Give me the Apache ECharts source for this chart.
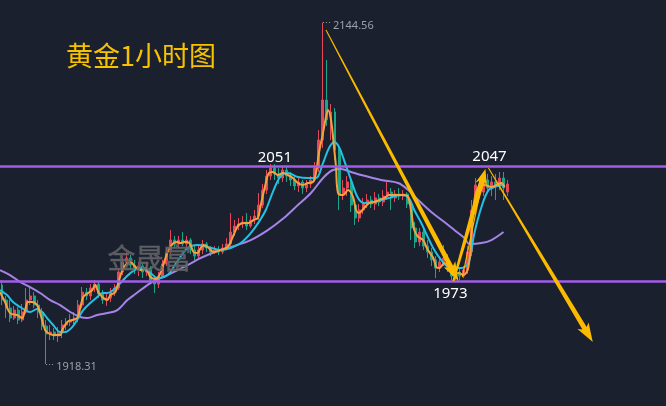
<!DOCTYPE html>
<html><head><meta charset="utf-8">
<script src="https://cdn.jsdelivr.net/npm/echarts@6/dist/echarts.min.js"></script>
<style>html,body{margin:0;padding:0;background:#1a202d;}#c{width:666px;height:406px;}</style>
</head><body><div id="c"></div>
<script>
// ---- data (prices) ----
const opens = [1970.7,1960.7,1955.4,1948.8,1954.1,1947.5,1952.8,1960.7,1963.4,1957.4,
1952.8,1943.5,1938.2,1939.5,1936.9,1938.9,1944.2,1946.1,1947.5,1948.8,
1957.4,1966.0,1963.4,1968.7,1971.3,1964.7,1960.7,1962.1,1966.0,1968.7,
1979.3,1985.9,1988.6,1983.9,1980.6,1983.3,1979.3,1981.9,1974.0,1971.3,
1976.6,1984.6,1992.6,2000.5,1997.9,2000.5,1997.9,2000.5,1993.9,1989.9,
1993.9,1997.9,1995.2,1992.6,1993.9,1992.6,1995.2,1997.9,2005.8,2009.8,
2011.1,2012.4,2009.8,2013.8,2016.4,2023.7,2033.6,2042.9,2048.2,2044.3,
2041.6,2046.9,2042.9,2040.3,2036.3,2039.0,2035.0,2037.6,2040.3,2048.2,
2066.8,2093.3,2080.1,2085.4,2060.2,2030.3,2035.0,2039.0,2023.7,2015.1,
2020.4,2024.4,2027.0,2024.4,2028.4,2025.7,2029.7,2032.3,2028.4,2031.0,
2029.7,2031.0,2024.4,2008.5,1999.2,2005.8,1996.5,1992.6,1987.3,1981.9,
1985.9,1988.6,1981.9,1976.6,1979.3,1976.6,1980.6,1992.6,2020.4,2037.0,
2032.3,2040.3,2035.0,2039.0,2036.3,2041.6,2032.3];
const closes = [1960.7,1955.4,1948.8,1954.1,1947.5,1952.8,1960.7,1963.4,1957.4,1952.8,
1943.5,1938.2,1939.5,1936.9,1938.9,1944.2,1946.1,1947.5,1948.8,1957.4,
1966.0,1963.4,1968.7,1971.3,1964.7,1960.7,1962.1,1966.0,1968.7,1979.3,
1985.9,1988.6,1983.9,1980.6,1983.3,1979.3,1981.9,1974.0,1971.3,1976.6,
1984.6,1992.6,2000.5,1997.9,2000.5,1997.9,2000.5,1993.9,1989.9,1993.9,
1997.9,1995.2,1992.6,1993.9,1992.6,1995.2,1997.9,2005.8,2009.8,2011.1,
2012.4,2009.8,2013.8,2016.4,2023.7,2033.6,2042.9,2048.2,2044.3,2041.6,
2046.9,2042.9,2040.3,2036.3,2039.0,2035.0,2037.6,2040.3,2048.2,2066.8,
2093.3,2080.1,2085.4,2060.2,2030.3,2035.0,2039.0,2023.7,2015.1,2020.4,
2024.4,2027.0,2024.4,2028.4,2025.7,2029.7,2032.3,2028.4,2031.0,2029.7,
2031.0,2024.4,2008.5,1999.2,2005.8,1996.5,1992.6,1987.3,1981.9,1985.9,
1988.6,1981.9,1976.6,1979.3,1976.6,1980.6,1992.6,2020.4,2037.0,2032.3,
2040.3,2035.0,2039.0,2036.3,2041.6,2035.0,2037.6];
const lows = [1957.4,1948.8,1946.1,1947.5,1944.8,1946.1,1951.5,1957.4,1955.4,1948.8,
1940.8,1918.31,1934.2,1934.2,1932.9,1935.5,1940.8,1943.5,1944.8,1946.1,
1955.4,1960.7,1960.7,1966.0,1962.1,1958.1,1956.8,1959.4,1963.4,1967.4,
1977.3,1983.3,1980.6,1978.0,1976.6,1975.3,1976.6,1971.3,1965.4,1968.7,
1975.3,1983.3,1991.2,1995.2,1995.2,1996.5,1993.9,1991.2,1987.3,1988.6,
1991.2,1992.6,1989.9,1991.2,1990.6,1991.2,1993.9,1996.5,2003.2,2007.1,
2008.5,2007.1,2008.5,2011.1,2013.8,2021.7,2031.0,2040.3,2040.3,2037.6,
2039.0,2039.0,2036.3,2033.6,2032.3,2031.0,2032.3,2035.0,2039.0,2045.6,
2061.5,2076.1,2066.8,2053.5,2020.4,2027.0,2029.7,2019.1,2010.5,2012.4,
2017.7,2021.7,2021.7,2020.4,2023.0,2023.0,2027.0,2020.4,2025.7,2027.0,
2027.0,2021.7,2000.5,1995.2,1996.5,1993.9,1988.6,1983.3,1975.3,1979.3,
1983.3,1979.3,1974.0,1974.0,1974.0,1975.3,1978.0,1989.9,2017.7,2028.4,
2029.7,2032.3,2029.7,2027.0,2033.6,2027.0,2029.7];
const highs = [1974.0,1963.4,1960.7,1956.8,1956.1,1958.1,1968.7,1970.0,1966.0,1960.7,
1955.4,1947.5,1944.2,1942.2,1942.8,1947.5,1948.8,1951.5,1952.8,1960.7,
1969.4,1968.7,1971.3,1974.0,1972.7,1967.4,1966.0,1968.7,1971.3,1981.9,
1989.9,1992.6,1990.6,1987.3,1985.9,1985.9,1985.9,1983.3,1976.6,1979.3,
1987.3,1995.2,2007.1,2003.2,2003.2,2005.8,2003.2,2001.8,1996.5,1996.5,
2000.5,1999.2,1996.5,1996.5,1996.5,1997.9,2001.8,2018.4,2013.8,2015.1,
2016.4,2018.4,2016.4,2020.4,2031.7,2037.6,2046.9,2050.9,2050.9,2048.2,
2049.6,2049.6,2045.6,2042.9,2041.6,2040.3,2040.3,2042.9,2052.2,2073.4,
2144.56,2119.8,2090.7,2088.0,2063.5,2040.3,2042.9,2040.3,2027.0,2024.4,
2028.4,2031.0,2029.7,2032.3,2031.0,2033.6,2039.0,2035.0,2033.6,2035.0,
2033.6,2032.3,2027.0,2012.4,2008.5,2008.5,2000.5,1995.2,1989.9,1988.6,
1997.2,1991.2,1984.6,1981.9,1981.9,1983.3,1996.5,2027.0,2041.6,2040.3,
2043.6,2044.3,2042.9,2044.3,2045.6,2045.6,2040.3];

// moving averages: [bar index, price]
const maFast = [[-0.5,1966.0],[0.75,1959.4],[2,1952.1],[3.75,1950.8],[5,1948.8],[5.75,1954.1],[6.5,1959.4],[7.5,1959.4],[8.75,1957.4],[9.5,1952.1],[10.75,1940.8],[11.5,1938.9],[12.75,1937.5],[14.5,1937.5],[15,1940.8],[16.25,1946.1],[17.5,1947.5],[18.75,1948.8],[19.5,1955.4],[20.25,1962.7],[21.5,1965.4],[22.5,1967.4],[23.25,1970.7],[24,1966.0],[25,1962.7],[26.25,1960.7],[27,1964.0],[28.25,1966.0],[29,1972.0],[30,1980.6],[31.25,1985.3],[32,1985.9],[33.25,1982.6],[34.5,1980.6],[35.75,1981.9],[37,1976.0],[38.25,1974.7],[39,1976.0],[40,1982.6],[40.75,1988.6],[41.5,1993.9],[42.75,1998.5],[43.75,1999.2],[44.5,1998.5],[45.25,1999.2],[46.25,1999.2],[47,1997.2],[47.75,1992.5],[48.75,1991.9],[49.5,1995.2],[50.25,1997.2],[51.25,1995.9],[52,1993.9],[52.75,1992.5],[54.5,1993.9],[56.25,1995.9],[57.5,2002.5],[58.25,2007.1],[59,2010.4],[60.25,2011.8],[61.5,2011.8],[62.75,2013.8],[63.75,2015.1],[64.5,2023.7],[65.75,2038.3],[66.5,2044.9],[67.5,2045.6],[68.75,2043.6],[70,2044.9],[71.25,2043.6],[72.5,2041.6],[73.75,2038.3],[75,2037.0],[76.25,2038.3],[77.5,2039.0],[78.25,2044.9],[79,2058.2],[80,2071.4],[80.75,2082.0],[81.25,2086.7],[82,2080.1],[82.75,2062.2],[83.25,2048.9],[83.75,2031.7],[85,2030.3],[86.25,2033.6],[87.5,2029.0],[88.25,2020.4],[89,2018.4],[90.25,2021.7],[91.5,2025.0],[92.75,2025.7],[94,2027.0],[95.25,2028.3],[96.5,2030.3],[99,2030.3],[100.25,2030.3],[101.25,2029.0],[102,2019.1],[102.75,2007.1],[103.75,2002.5],[105,2000.5],[105.75,1995.9],[106.5,1992.5],[107.5,1988.6],[108.25,1982.6],[109,1981.9],[110.25,1985.3],[111.25,1982.6],[112.5,1977.3],[113.75,1978.6],[115,1977.3],[116.25,1982.6],[117,2005.1],[117.75,2027.0],[118.75,2035.6],[120.25,2037.0],[122,2035.6],[123.25,2037.0],[124.5,2038.3],[125.25,2035.6]];
const maMid = [[-0.5,1967.4],[1.25,1964.0],[2.75,1959.4],[4.5,1956.1],[5.75,1954.1],[7,1952.8],[8.75,1954.8],[10,1952.8],[11.25,1948.8],[12.75,1944.2],[14.5,1939.5],[15.75,1939.5],[17.5,1942.8],[19,1948.8],[20.25,1954.1],[22,1958.7],[23.75,1962.7],[25,1965.4],[26.25,1965.4],[27.75,1967.4],[29.5,1972.0],[32,1978.6],[34.5,1981.9],[37,1978.6],[38.75,1975.3],[41.25,1977.3],[43.75,1986.6],[46.25,1995.2],[48.75,1997.2],[51.25,1995.9],[54.5,1993.9],[57,1995.2],[59.5,1998.5],[62,2005.1],[64,2012.4],[65.75,2020.4],[67.5,2032.3],[69.5,2043.0],[71.25,2044.9],[73.75,2042.3],[76.25,2041.6],[78.25,2041.6],[80,2051.5],[81.5,2061.5],[82.75,2065.5],[84,2062.2],[85.25,2053.5],[87,2040.3],[88.75,2028.3],[90.25,2025.0],[92.75,2025.7],[96.25,2028.3],[99.5,2030.3],[101.25,2029.0],[102.75,2020.4],[104.5,2011.8],[106.25,2001.8],[107.75,1993.9],[109.5,1987.2],[111.25,1982.6],[113.25,1981.9],[114.5,1981.9],[116.25,1985.3],[117.75,2005.1],[119.5,2022.4],[121.25,2033.6],[122.75,2035.6],[124.5,2037.0],[125.25,2035.6]];
const maSlow = [[-0.5,1980.6],[2,1977.3],[4.5,1972.7],[7,1969.3],[9.5,1965.4],[12,1960.7],[14.5,1957.4],[17,1952.8],[19.5,1949.5],[21.25,1948.8],[23.75,1950.8],[26.25,1952.1],[28.75,1954.1],[31.25,1960.7],[33.25,1964.7],[37,1972.0],[41.25,1977.3],[46.25,1983.9],[49.5,1988.6],[53.75,1993.2],[57.75,1996.5],[62,2000.5],[66.25,2007.1],[70.25,2015.1],[73.75,2023.7],[77,2031.7],[80.25,2042.3],[82.5,2046.9],[84.5,2047.6],[87,2045.6],[89.5,2043.6],[94.5,2040.3],[98.75,2038.3],[101.25,2033.6],[103.75,2027.0],[107,2019.1],[110.25,2012.4],[112.75,2007.1],[115.25,2001.8],[116.5,1997.9],[119.5,1998.5],[122,2000.5],[125,2005.8]];

// levels and annotations
const levels = [2049.1, 1973.1];
const levelLabels = [{name:'2051', x:68, p:2054.9},{name:'2047', x:121.5, p:2055.5},{name:'1973', x:111.75, p:1964.7}];
const extremes = [{name:'2144.56', x:80, p:2144.56},{name:'1918.31', x:11, p:1918.31}];
// arrows: [startIndex, startPrice, endIndex, endPrice]
const arrows = [[80.75,2139.7,113.75,1973.3],[112.5,1973.3,120.5,2047.6],[121.25,2048.2,147.25,1932.9],[114.75,1976.0,120,2042.9]];
const ARROW_STYLES = [
  {w0:1, w1:5, head:true, headW:13, headLen:16, notch:3},
  {w0:2, w1:5.5, head:true, headW:12, headLen:13, notch:3},
  {w0:1, w1:5, head:true, headW:13, headLen:16, notch:3},
  {w0:1.2, w1:1.2, head:false}
];

const NCAT = 166;
const categories = [];
for (let i = 0; i < NCAT; i++) categories.push(String(i));
const candleData = opens.map((o, i) => [o, closes[i], lows[i], highs[i]]);

const YELLOW = '#fbb900';
function renderArrow(params, api) {
  const st = ARROW_STYLES[params.dataIndex];
  const a = api.coord([api.value(0), api.value(1)]);
  const b = api.coord([api.value(2), api.value(3)]);
  const dx = b[0]-a[0], dy = b[1]-a[1];
  const len = Math.hypot(dx, dy);
  const ux = dx/len, uy = dy/len, nx = -uy, ny = ux;
  const hl = st.head ? st.headLen : 0;
  const bx = b[0]-ux*hl, by = b[1]-uy*hl;
  const pts = [];
  pts.push([a[0]+nx*st.w0/2, a[1]+ny*st.w0/2]);
  pts.push([bx+nx*st.w1/2, by+ny*st.w1/2]);
  if (st.head) {
    pts.push([bx-ux*st.notch+nx*st.headW/2, by-uy*st.notch+ny*st.headW/2]);
    pts.push([b[0], b[1]]);
    pts.push([bx-ux*st.notch-nx*st.headW/2, by-uy*st.notch-ny*st.headW/2]);
  }
  pts.push([bx-nx*st.w1/2, by-ny*st.w1/2]);
  pts.push([a[0]-nx*st.w0/2, a[1]-ny*st.w0/2]);
  return {type:'polygon', shape:{points:pts}, style:{fill:YELLOW}};
}

const chart = echarts.init(document.getElementById('c'), null, {renderer:'canvas'});
const lineBase = {type:'line', xAxisIndex:1, yAxisIndex:0, symbol:'none', smooth:0.35, silent:true};
chart.setOption({
  animation:false,
  backgroundColor:'#1a202d',
  grid:{left:0, right:0, top:0, bottom:0},
  xAxis:[
    {type:'category', data:categories, boundaryGap:true, show:false},
    {type:'value', min:-0.5, max:NCAT-0.5, show:false}
  ],
  yAxis:{type:'value', min:1890.5, max:2159.6, show:false, splitLine:{show:false}},
  graphic:[
    {type:'text', left:66, top:42, z:10, style:{text:'黄金1小时图', fill:'#f7c200', font:'27px "Noto Sans CJK SC"'}},
    {type:'text', left:107, top:244, z:10, style:{text:'金晟富', fill:'rgba(104,106,110,0.8)', stroke:'rgba(70,72,76,0.9)', lineWidth:0.8, font:'28px "Noto Sans CJK SC"'}}
  ],
  series:[
    {type:'candlestick', xAxisIndex:0, yAxisIndex:0, data:candleData, barWidth:'62%', z:2, silent:true,
      itemStyle:{color:'#e5475b', color0:'#1ba589', borderColor:'#e5475b', borderColor0:'#1ba589', borderWidth:1},
      markLine:{silent:true, symbol:'none', z:4, label:{show:false},
        lineStyle:{color:'#a25ce8', width:2.5, type:'solid'},
        data: levels.map(v => ({yAxis:v}))}
    },
    Object.assign({}, lineBase, {name:'slow', data:maSlow, z:3, lineStyle:{color:'#a484e6', width:2}}),
    Object.assign({}, lineBase, {name:'mid', data:maMid, z:3, lineStyle:{color:'#25c1e4', width:2}}),
    Object.assign({}, lineBase, {name:'fast', data:maFast, z:3, lineStyle:{color:'#f6a23c', width:2},
      markPoint:{silent:true, symbol:'rect', symbolSize:1, itemStyle:{color:'transparent'},
        label:{show:true, position:'inside', color:'#ffffff', fontSize:15, fontFamily:'Noto Sans', formatter:'{b}'},
        data: levelLabels.map(d => ({name:d.name, coord:[d.x, d.p]}))},
      markLine:{silent:true, symbol:'none',
        lineStyle:{color:'#9aa0a8', width:1, type:[1,2]},
        label:{show:true, position:'end', distance:2, color:'#9aa0a8', fontSize:11, fontFamily:'Noto Sans', formatter:'{b}', offset:[0,3]},
        data: extremes.map(d => [{name:d.name, coord:[d.x, d.p]}, {coord:[d.x+2, d.p]}])}
    }),
    {type:'custom', xAxisIndex:1, yAxisIndex:0, data:arrows, renderItem:renderArrow, z:6, silent:true,
      encode:{x:[0,2], y:[1,3]}}
  ]
});
</script></body></html>
